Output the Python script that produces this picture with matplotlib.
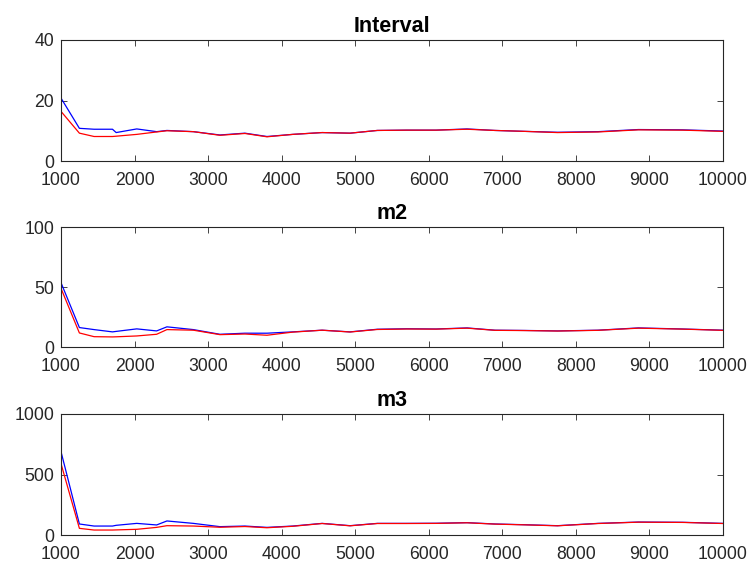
import matplotlib
matplotlib.use("Agg")
import matplotlib.pyplot as plt

plt.rcParams['font.family'] = ['Liberation Sans', 'DejaVu Sans']

# Sample positions (x)
x = [1000, 1250, 1450, 1700, 1750, 2030, 2300, 2440, 2800, 3160, 3500, 3800,
     4150, 4550, 4930, 5300, 5700, 6100, 6520, 6900, 7300, 7750, 8300, 8850,
     9450, 10000]

# Interval
interval_blue = [20.8, 10.8, 10.5, 10.5, 9.4, 10.6, 9.7, 10.1, 9.7, 8.6, 9.2, 8.1,
                 8.8, 9.4, 9.2, 10.1, 10.2, 10.2, 10.6, 10.1, 9.8, 9.5, 9.7, 10.4,
                 10.3, 9.9]
interval_red = [16.4, 9.2, 8.1, 8.1, 8.2, 8.8, 9.6, 10.0, 9.7, 8.5, 9.1, 8.0,
                8.8, 9.4, 9.2, 10.1, 10.2, 10.2, 10.5, 10.1, 9.8, 9.4, 9.6, 10.3,
                10.2, 9.8]

# m2
m2_blue = [53.6, 16.2, 14.5, 12.6, 13.0, 15.1, 13.4, 16.8, 14.5, 10.6, 11.5, 11.5,
           12.6, 14.0, 12.6, 14.8, 15.2, 15.0, 15.9, 14.0, 13.8, 13.4, 14.0, 15.9,
           15.0, 14.0]
m2_red = [48.9, 11.7, 8.6, 8.4, 8.5, 9.2, 10.6, 14.5, 14.0, 10.3, 10.8, 9.8,
          12.4, 14.0, 12.5, 14.6, 15.0, 14.9, 15.7, 13.9, 13.7, 13.3, 13.9, 15.7,
          14.9, 13.9]

# m3
m3_blue = [689, 91, 74, 74, 80, 96, 83, 116, 96, 69, 74, 63,
           74, 96, 77, 96, 96, 97, 102, 91, 85, 77, 96, 107,
           105, 96]
m3_red = [590, 55, 41, 41, 42, 47, 63, 77, 74, 64, 70, 60,
          72, 95, 76, 95, 95, 96, 101, 90, 84, 76, 95, 106,
          104, 95]

titles = ['Interval', 'm2', 'm3']
series = [(interval_blue, interval_red), (m2_blue, m2_red), (m3_blue, m3_red)]
ylims = [(0, 40), (0, 100), (0, 1000)]
yticks = [[0, 20, 40], [0, 50, 100], [0, 500, 1000]]
xticks = [1000, 2000, 3000, 4000, 5000, 6000, 7000, 8000, 9000, 10000]

fig = plt.figure(figsize=(7.51, 5.68), dpi=100)
W, H = 751, 568
left, right = 61, 723
boxes = [(40, 161), (227, 347), (414, 535)]

textc = '#262626'
for i, (top, bot) in enumerate(boxes):
    ax = fig.add_axes([left / W, 1 - bot / H, (right - left) / W, (bot - top) / H])
    b, r = series[i]
    ax.plot(x, b, color='#0000ff', lw=0.9)
    ax.plot(x, r, color='#ff0000', lw=0.9)
    ax.set_xlim(1000, 10000)
    ax.set_ylim(*ylims[i])
    ax.set_xticks(xticks)
    ax.set_yticks(yticks[i])
    ax.tick_params(direction='in', top=True, right=True, length=4, width=0.6,
                   labelsize=12.7, colors=textc)
    ax.tick_params(axis='x', pad=8)
    ax.tick_params(axis='y', pad=5)
    for s in ax.spines.values():
        s.set_color(textc)
        s.set_linewidth(0.8)
    ax.set_title(titles[i], fontsize=15.5, fontweight='bold', color='black', pad=6)

fig.savefig('out.png', dpi=100, facecolor='white')
